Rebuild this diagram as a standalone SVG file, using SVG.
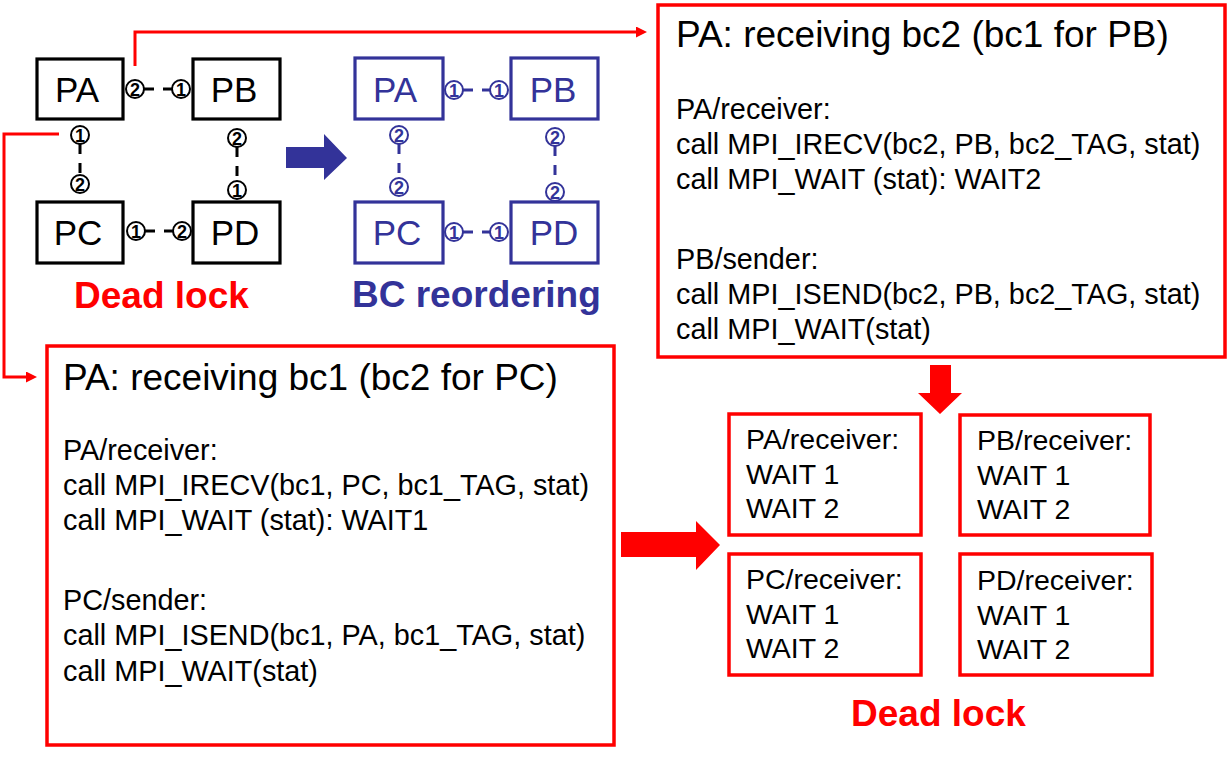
<svg xmlns="http://www.w3.org/2000/svg" width="1227" height="759" viewBox="0 0 1227 759">
<style>
text{font-family:"Liberation Sans",Arial,sans-serif}
.nb{fill:#fff;stroke:#000;stroke-width:3.2}
.nbl{fill:#fff;stroke:#333399;stroke-width:3.2}
.nl{font-size:35px;fill:#000;text-anchor:middle}
.nll{font-size:35px;fill:#333399;text-anchor:middle}
.cb{fill:#fff;stroke:#000;stroke-width:2}
.cbl{fill:#fff;stroke:#333399;stroke-width:2}
.dg{font-size:18px;font-weight:bold;text-anchor:middle;fill:#000}
.dgl{font-size:18px;font-weight:bold;text-anchor:middle;fill:#333399}
.dl{stroke:#000;stroke-width:3;stroke-dasharray:10 9;fill:none}
.dll{stroke:#333399;stroke-width:3;stroke-dasharray:10 9;fill:none}
.rb{fill:#fff;stroke:#ff0000;stroke-width:3.5}
.ti{font-size:37px;fill:#000}
.bd{font-size:28.8px;fill:#000}
.sm{font-size:28.5px;fill:#000}
.big{font-size:37px;font-weight:bold}
.red{fill:#ff0000}
.blue{fill:#333399}
.rl{stroke:#ff0000;stroke-width:3;fill:none}
</style>
<defs>
<marker id="ah" markerUnits="userSpaceOnUse" markerWidth="11" markerHeight="11" viewBox="0 0 11 11" refX="2" refY="5.5" orient="auto">
<path d="M0,0 L11,5.5 L0,11 z" fill="#ff0000"/>
</marker>
</defs>

<g id="connectors">
<path class="rl" d="M135,66 V32 H638" marker-end="url(#ah)"/>
<path class="rl" d="M59,134 H4 V377 H28" marker-end="url(#ah)"/>
<line class="dl" x1="144" y1="89" x2="172" y2="89"/>
<line class="dl" x1="80" y1="144" x2="80" y2="175"/>
<line class="dl" x1="237" y1="147" x2="237" y2="181"/>
<line class="dl" x1="145" y1="231" x2="173" y2="231"/>
<line class="dll" x1="463" y1="90" x2="490" y2="90"/>
<line class="dll" x1="399" y1="144" x2="399" y2="178"/>
<line class="dll" x1="555" y1="146" x2="555" y2="183"/>
<line class="dll" x1="463" y1="232" x2="490" y2="232"/>
<polygon class="blue" points="286,147 324,147 324,134 347,158 324,180 324,168 286,168"/>
<polygon class="red" points="930,365 951,365 951,393 962,393 940,414 918,393 930,393"/>
<polygon class="red" points="621,532 696,532 696,521 720,545 696,570 696,557 621,557"/>
</g>

<g id="dead-PA"><rect class="nb" x="37" y="59" width="86" height="60"/><text class="nl" x="77" y="102">PA</text></g>
<g id="dead-PB"><rect class="nb" x="193" y="59" width="87" height="60"/><text class="nl" x="234" y="102">PB</text></g>
<g id="dead-PC"><rect class="nb" x="37" y="202" width="86" height="61"/><text class="nl" x="78" y="245">PC</text></g>
<g id="dead-PD"><rect class="nb" x="193" y="202" width="87" height="61"/><text class="nl" x="235" y="245">PD</text></g>

<g id="dead-marks">
<circle class="cb" cx="135" cy="89" r="9"/><text class="dg" x="135" y="95.5">2</text>
<circle class="cb" cx="181" cy="89" r="9"/><text class="dg" x="181" y="95.5">1</text>
<circle class="cb" cx="80" cy="135" r="9"/><text class="dg" x="80" y="141.5">1</text>
<circle class="cb" cx="80" cy="184" r="9"/><text class="dg" x="80" y="190.5">2</text>
<circle class="cb" cx="237" cy="138" r="9"/><text class="dg" x="237" y="144.5">2</text>
<circle class="cb" cx="237" cy="190" r="9"/><text class="dg" x="237" y="196.5">1</text>
<circle class="cb" cx="136" cy="231" r="9"/><text class="dg" x="136" y="237.5">1</text>
<circle class="cb" cx="182" cy="231" r="9"/><text class="dg" x="182" y="237.5">2</text>
</g>

<g id="bc-PA"><rect class="nbl" x="355" y="58" width="88" height="61"/><text class="nll" x="395" y="102">PA</text></g>
<g id="bc-PB"><rect class="nbl" x="511" y="58" width="87" height="61"/><text class="nll" x="553" y="102">PB</text></g>
<g id="bc-PC"><rect class="nbl" x="355" y="202" width="88" height="61"/><text class="nll" x="397" y="245">PC</text></g>
<g id="bc-PD"><rect class="nbl" x="511" y="202" width="87" height="61"/><text class="nll" x="554" y="245">PD</text></g>

<g id="bc-marks">
<circle class="cbl" cx="454" cy="90" r="9"/><text class="dgl" x="454" y="96.5">1</text>
<circle class="cbl" cx="499" cy="90" r="9"/><text class="dgl" x="499" y="96.5">1</text>
<circle class="cbl" cx="399" cy="135" r="9"/><text class="dgl" x="399" y="141.5">2</text>
<circle class="cbl" cx="399" cy="187" r="9"/><text class="dgl" x="399" y="193.5">2</text>
<circle class="cbl" cx="555" cy="137" r="9"/><text class="dgl" x="555" y="143.5">2</text>
<circle class="cbl" cx="555" cy="192" r="9"/><text class="dgl" x="555" y="198.5">2</text>
<circle class="cbl" cx="454" cy="232" r="9"/><text class="dgl" x="454" y="238.5">1</text>
<circle class="cbl" cx="499" cy="232" r="9"/><text class="dgl" x="499" y="238.5">1</text>
</g>

<g id="labels">
<text class="big red" x="74" y="308">Dead lock</text>
<text class="big blue" x="352" y="307">BC reordering</text>
<text class="big red" x="851" y="726">Dead lock</text>
</g>

<g id="box-bc2">
<rect class="rb" x="658" y="5" width="567" height="352"/>
<text class="ti" x="676" y="47">PA: receiving bc2 (bc1 for PB)</text>
<text class="bd" x="676" y="119">PA/receiver:</text>
<text class="bd" x="676" y="154">call MPI_IRECV(bc2, PB, bc2_TAG, stat)</text>
<text class="bd" x="676" y="189">call MPI_WAIT (stat): WAIT2</text>
<text class="bd" x="676" y="269">PB/sender:</text>
<text class="bd" x="676" y="304">call MPI_ISEND(bc2, PB, bc2_TAG, stat)</text>
<text class="bd" x="676" y="339">call MPI_WAIT(stat)</text>
</g>

<g id="box-bc1">
<rect class="rb" x="47" y="346" width="567" height="399"/>
<text class="ti" x="63" y="390">PA: receiving bc1 (bc2 for PC)</text>
<text class="bd" x="63" y="460">PA/receiver:</text>
<text class="bd" x="63" y="495">call MPI_IRECV(bc1, PC, bc1_TAG, stat)</text>
<text class="bd" x="63" y="530">call MPI_WAIT (stat): WAIT1</text>
<text class="bd" x="63" y="610">PC/sender:</text>
<text class="bd" x="63" y="645">call MPI_ISEND(bc1, PA, bc1_TAG, stat)</text>
<text class="bd" x="63" y="681">call MPI_WAIT(stat)</text>
</g>

<g id="recv-PA">
<rect class="rb" x="729" y="414" width="192" height="121"/>
<text class="sm" x="746" y="449">PA/receiver:</text>
<text class="sm" x="746" y="484">WAIT 1</text>
<text class="sm" x="746" y="518">WAIT 2</text>
</g>
<g id="recv-PB">
<rect class="rb" x="960" y="415" width="190" height="120"/>
<text class="sm" x="977" y="450">PB/receiver:</text>
<text class="sm" x="977" y="485">WAIT 1</text>
<text class="sm" x="977" y="519">WAIT 2</text>
</g>
<g id="recv-PC">
<rect class="rb" x="729" y="554" width="192" height="121"/>
<text class="sm" x="746" y="589">PC/receiver:</text>
<text class="sm" x="746" y="624">WAIT 1</text>
<text class="sm" x="746" y="658">WAIT 2</text>
</g>
<g id="recv-PD">
<rect class="rb" x="960" y="554" width="192" height="121"/>
<text class="sm" x="977" y="590">PD/receiver:</text>
<text class="sm" x="977" y="625">WAIT 1</text>
<text class="sm" x="977" y="659">WAIT 2</text>
</g>
</svg>
